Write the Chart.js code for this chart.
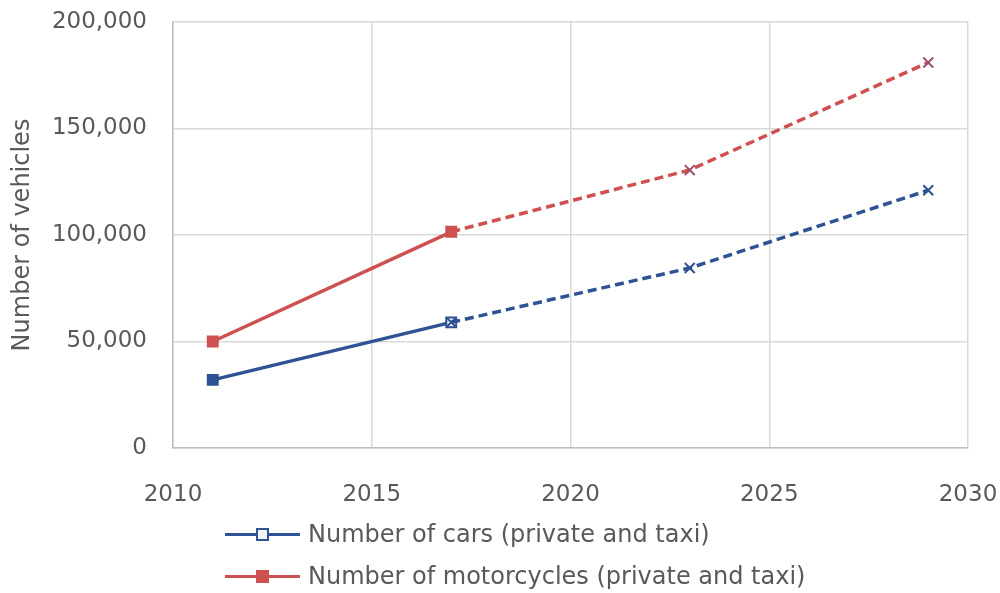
<!DOCTYPE html>
<html>
<head>
<meta charset="utf-8">
<script src="https://cdn.jsdelivr.net/npm/chart.js@4.4.1/dist/chart.umd.min.js"></script>
<style>
  html, body { margin: 0; padding: 0; background: #fff; }
  #wrap { position: relative; width: 1000px; height: 593px; }
  #chart { position: absolute; left: 0; top: 0; }
  .legend-row { position: absolute; left: 225px; height: 30px; display: flex; align-items: center;
    font-family: "DejaVu Sans", sans-serif; font-size: 24px; color: #595959; white-space: nowrap; }
  .legend-line { position: relative; width: 75px; height: 3px; margin-right: 8px; }
  .legend-mark { position: absolute; left: 31px; top: -5px; width: 9px; height: 9px; border: 2px solid; }
</style>
</head>
<body>
<div id="wrap">
  <canvas id="chart" width="1000" height="593"></canvas>
  <div id="legend"></div>
</div>
<script>
// years and vehicle counts
const actualYears = [2011, 2017];
const projectedYears = [2017, 2023, 2029];
const carsActual = [32000, 59000];
const carsProjected = [59000, 84500, 121000];
const motoActual = [50000, 101500];
const motoProjected = [101500, 130500, 181000];
const xTicks = [2010, 2015, 2020, 2025, 2030];
const yTicks = [0, 50000, 100000, 150000, 200000];

const seriesNames = ['Number of cars (private and taxi)', 'Number of motorcycles (private and taxi)'];
const BLUE = '#2E5294';
const RED = '#CF5050';
const GRAY = '#595959';

function pts(xs, ys) {
  return xs.map((x, i) => ({ x: x, y: ys[i] }));
}

const datasets = [
  {
    label: seriesNames[0],
    data: pts(actualYears, carsActual),
    borderColor: BLUE,
    backgroundColor: [BLUE, '#F2F4F8'],
    pointBorderColor: BLUE,
    pointStyle: 'rect',
    pointRadius: 7,
    pointBorderWidth: 2,
    borderWidth: 3.5,
    order: 1
  },
  {
    label: seriesNames[0] + ' projected',
    data: pts(projectedYears, carsProjected),
    borderColor: BLUE,
    borderDash: [9, 5],
    pointStyle: 'crossRot',
    pointBorderColor: BLUE,
    pointRadius: 7,
    pointBorderWidth: 2,
    borderWidth: 3.5,
    order: 0
  },
  {
    label: seriesNames[1],
    data: pts(actualYears, motoActual),
    borderColor: RED,
    backgroundColor: RED,
    pointBorderColor: RED,
    pointStyle: 'rect',
    pointRadius: 7,
    pointBorderWidth: 2,
    borderWidth: 3.5,
    order: 0
  },
  {
    label: seriesNames[1] + ' projected',
    data: pts(projectedYears, motoProjected),
    borderColor: RED,
    borderDash: [9, 5],
    pointStyle: 'crossRot',
    pointBorderColor: [RED, '#A0506A', '#A0506A'],
    pointRadius: [0, 7, 7],
    pointBorderWidth: 2,
    borderWidth: 3.5,
    order: 2
  }
];

new Chart(document.getElementById('chart'), {
  type: 'line',
  data: { datasets: datasets },
  options: {
    responsive: false,
    animation: false,
    layout: { padding: { top: 22, right: 32, left: 0, bottom: 0 } },
    plugins: { legend: { display: false }, tooltip: { enabled: false } },
    scales: {
      x: {
        type: 'linear',
        min: 2010,
        max: 2030,
        // fixed axis height; label overflow handled by layout padding
        afterFit: s => { s.height = 145; s.paddingLeft = 0; s.paddingRight = 0; },
        afterBuildTicks: s => { s.ticks = xTicks.map(v => ({ value: v })); },
        grid: { color: '#D9D9D9', lineWidth: 1.5, drawTicks: false },
        border: { color: '#BFBFBF', width: 1.5 },
        ticks: {
          padding: 33,
          color: GRAY,
          font: { family: 'DejaVu Sans', size: 23 },
          callback: v => String(v)
        }
      },
      y: {
        min: 0,
        max: 200000,
        afterFit: s => { s.width = 173; s.paddingTop = 0; s.paddingBottom = 0; },
        afterBuildTicks: s => { s.ticks = yTicks.map(v => ({ value: v })); },
        grid: { color: '#D9D9D9', lineWidth: 1.5, drawTicks: false },
        border: { color: '#BFBFBF', width: 1.5 },
        ticks: {
          padding: 26,
          color: GRAY,
          font: { family: 'DejaVu Sans', size: 23 },
          callback: v => v.toLocaleString('en-US')
        },
        title: {
          display: true,
          text: 'Number of vehicles',
          color: GRAY,
          padding: { top: 8, bottom: 0 },
          font: { family: 'DejaVu Sans', size: 24 }
        }
      }
    }
  }
});

// legend underneath the plot, one series per row
const legendEl = document.getElementById('legend');
const legendItems = [
  { name: seriesNames[0], color: BLUE, fill: '#F2F4F8', top: 519 },
  { name: seriesNames[1], color: RED, fill: RED, top: 561 }
];
legendItems.forEach(item => {
  const row = document.createElement('div');
  row.className = 'legend-row';
  row.style.top = item.top + 'px';
  const line = document.createElement('div');
  line.className = 'legend-line';
  line.style.background = item.color;
  const mark = document.createElement('div');
  mark.className = 'legend-mark';
  mark.style.borderColor = item.color;
  mark.style.background = item.fill;
  line.appendChild(mark);
  const txt = document.createElement('span');
  txt.textContent = item.name;
  row.appendChild(line);
  row.appendChild(txt);
  legendEl.appendChild(row);
});
</script>
</body>
</html>
